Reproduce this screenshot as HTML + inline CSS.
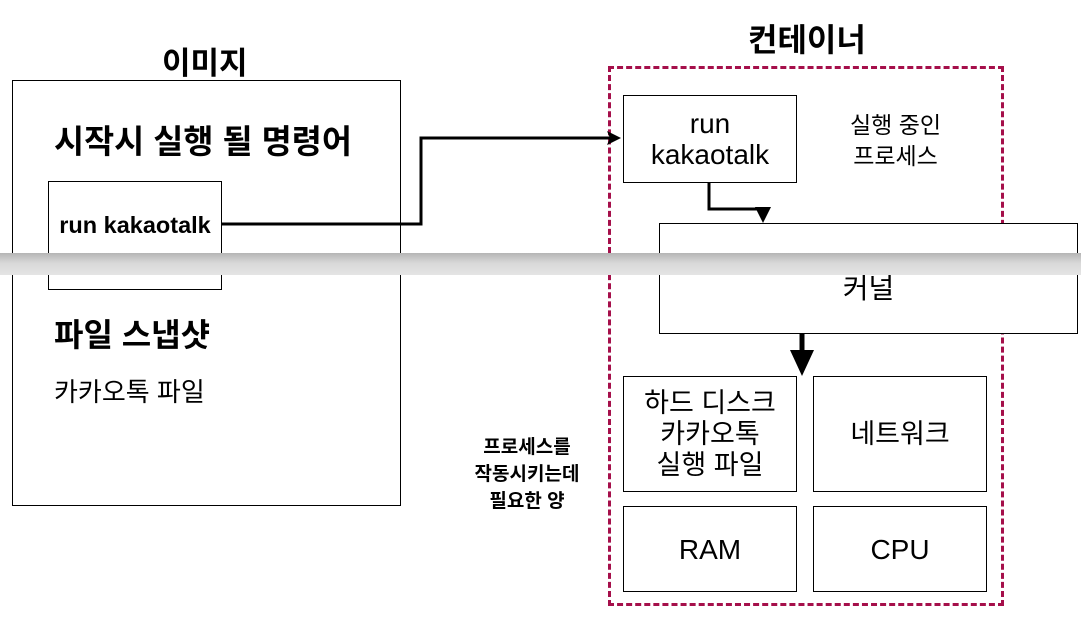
<!DOCTYPE html>
<html><head><meta charset="utf-8"><style>
body{margin:0;width:1081px;height:624px;background:#fff;overflow:hidden;position:relative;font-family:"Liberation Sans","Noto Sans CJK KR",sans-serif;color:#000}
.b{position:absolute;border:1.5px solid #000;box-sizing:border-box;background:#fff}
.t{position:absolute;white-space:nowrap}
.c{display:flex;align-items:center;justify-content:center;text-align:center;font-size:28px;line-height:31px}
</style></head><body>
<div class="t" style="left:162px;top:38px;font-size:31px;font-weight:bold">이미지</div>
<div class="t" style="left:748px;top:15px;font-size:32px;font-weight:bold">컨테이너</div>
<div class="b" style="left:12px;top:80px;width:389px;height:426px"></div>
<div class="t" style="left:54px;top:116px;font-size:32.7px;font-weight:bold">시작시 실행 될 명령어</div>
<div class="b c" style="left:48px;top:181px;width:174px;height:109px;font-size:23.5px;font-weight:bold;align-items:flex-start;padding-top:28px">run kakaotalk</div>
<div class="t" style="left:54px;top:310px;font-size:32px;font-weight:bold">파일 스냅샷</div>
<div class="t" style="left:54px;top:372px;font-size:26px">카카오톡 파일</div>
<div style="position:absolute;left:608px;top:66px;width:396px;height:540px;border:3px dashed #a50f4a;box-sizing:border-box"></div>
<div class="b c" style="left:623px;top:95px;width:174px;height:88px">run<br>kakaotalk</div>
<div class="t" style="left:850px;top:110px;font-size:23px;line-height:31px;text-align:center">실행 중인<br>프로세스</div>
<div class="b c" style="left:659px;top:223px;width:419px;height:111px;padding-top:20px">커널</div>
<div class="b c" style="left:623px;top:376px;width:174px;height:116px;font-size:27px;line-height:31px">하드 디스크<br>카카오톡<br>실행 파일</div>
<div class="b c" style="left:813px;top:376px;width:174px;height:116px;font-size:27px">네트워크</div>
<div class="b c" style="left:623px;top:506px;width:174px;height:86px">RAM</div>
<div class="b c" style="left:813px;top:506px;width:174px;height:86px">CPU</div>
<div class="t" style="left:468px;top:434px;width:118px;font-size:19px;font-weight:bold;line-height:27px;text-align:center">프로세스를<br>작동시키는데<br>필요한 양</div>
<svg width="1081" height="624" style="position:absolute;left:0;top:0">
<polyline points="222,224 421,224 421,138 610,138" fill="none" stroke="#000" stroke-width="3"/>
<polygon points="621,138 607,131 610,138 607,145" fill="#000"/>
<polyline points="709,183 709,209 763,209 763,212" fill="none" stroke="#000" stroke-width="3"/>
<polygon points="755,207 771,207 763,223" fill="#000"/>
<line x1="802" y1="334" x2="802" y2="360" stroke="#000" stroke-width="5"/>
<polygon points="790,350 814,350 802,376" fill="#000"/>
</svg>
<div style="position:absolute;left:0;top:253px;width:1081px;height:22px;background:linear-gradient(#b5b5b5,#d8d8d8 45%,#e4e4e4)"></div>
</body></html>
